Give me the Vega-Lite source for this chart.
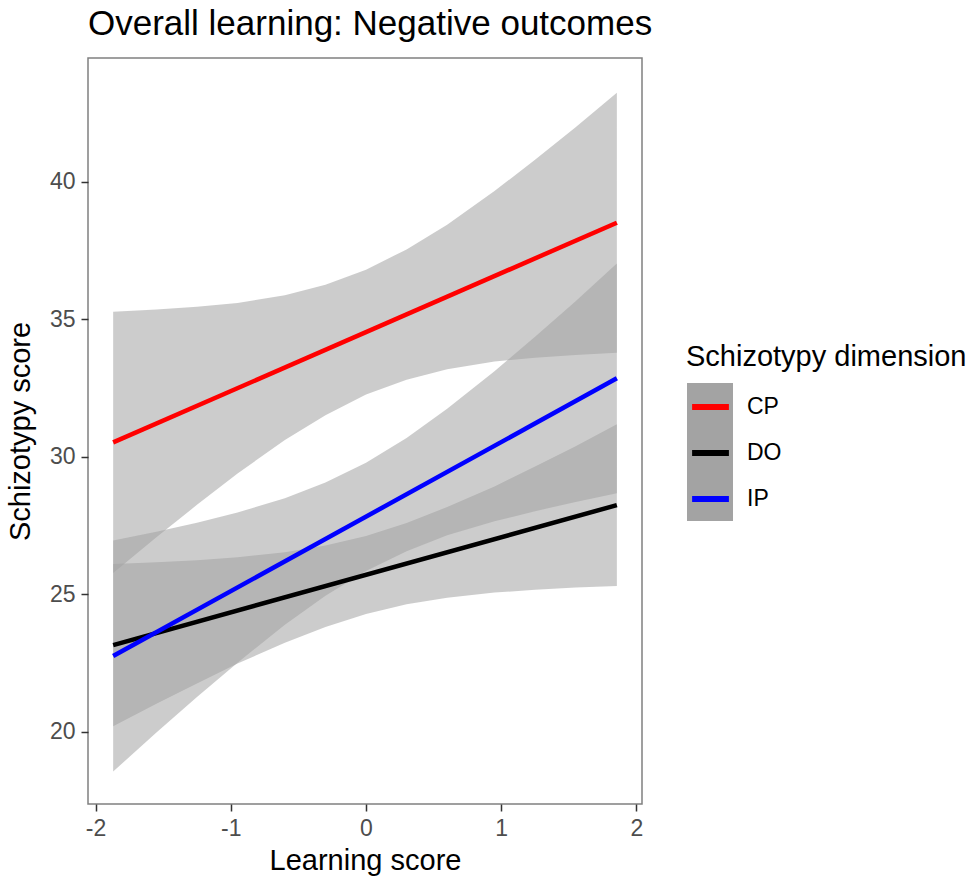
{
  "$schema": "https://vega.github.io/schema/vega-lite/v6.json",
  "autosize": {"type": "none"},
  "width": 554,
  "height": 746,
  "padding": {"left": 88, "top": 58, "right": 330, "bottom": 73},
  "background": "white",
  "title": {
    "text": "Overall learning: Negative outcomes",
    "anchor": "start",
    "frame": "group",
    "font": "Liberation Sans",
    "fontSize": 35,
    "fontWeight": "normal",
    "color": "#000000",
    "offset": 16
  },
  "datasets": {
    "fits": [
      {"x": -1.87, "y": 30.52, "series": "CP"},
      {"x": 1.855, "y": 38.51, "series": "CP"},
      {"x": -1.87, "y": 23.15, "series": "DO"},
      {"x": 1.855, "y": 28.24, "series": "DO"},
      {"x": -1.87, "y": 22.75, "series": "IP"},
      {"x": 1.855, "y": 32.85, "series": "IP"}
    ],
    "bands": [
      {"x": -1.87, "lower": 25.77, "upper": 35.27, "band": "CP"},
      {"x": -1.55, "lower": 27.07, "upper": 35.35, "band": "CP"},
      {"x": -1.25, "lower": 28.25, "upper": 35.45, "band": "CP"},
      {"x": -0.95, "lower": 29.39, "upper": 35.59, "band": "CP"},
      {"x": -0.6, "lower": 30.61, "upper": 35.87, "band": "CP"},
      {"x": -0.3, "lower": 31.51, "upper": 36.25, "band": "CP"},
      {"x": 0, "lower": 32.26, "upper": 36.8, "band": "CP"},
      {"x": 0.3, "lower": 32.8, "upper": 37.54, "band": "CP"},
      {"x": 0.6, "lower": 33.18, "upper": 38.44, "band": "CP"},
      {"x": 0.95, "lower": 33.46, "upper": 39.66, "band": "CP"},
      {"x": 1.25, "lower": 33.6, "upper": 40.8, "band": "CP"},
      {"x": 1.55, "lower": 33.7, "upper": 41.98, "band": "CP"},
      {"x": 1.855, "lower": 33.78, "upper": 43.24, "band": "CP"},
      {"x": -1.87, "lower": 20.2, "upper": 26.1, "band": "DO"},
      {"x": -1.55, "lower": 21.02, "upper": 26.16, "band": "DO"},
      {"x": -1.25, "lower": 21.75, "upper": 26.23, "band": "DO"},
      {"x": -0.95, "lower": 22.48, "upper": 26.34, "band": "DO"},
      {"x": -0.6, "lower": 23.23, "upper": 26.53, "band": "DO"},
      {"x": -0.3, "lower": 23.81, "upper": 26.77, "band": "DO"},
      {"x": 0, "lower": 24.28, "upper": 27.12, "band": "DO"},
      {"x": 0.3, "lower": 24.63, "upper": 27.59, "band": "DO"},
      {"x": 0.6, "lower": 24.87, "upper": 28.17, "band": "DO"},
      {"x": 0.95, "lower": 25.06, "upper": 28.92, "band": "DO"},
      {"x": 1.25, "lower": 25.16, "upper": 29.64, "band": "DO"},
      {"x": 1.55, "lower": 25.24, "upper": 30.38, "band": "DO"},
      {"x": 1.855, "lower": 25.3, "upper": 31.18, "band": "DO"},
      {"x": -1.87, "lower": 18.55, "upper": 26.95, "band": "IP"},
      {"x": -1.55, "lower": 19.97, "upper": 27.27, "band": "IP"},
      {"x": -1.25, "lower": 21.26, "upper": 27.6, "band": "IP"},
      {"x": -0.95, "lower": 22.51, "upper": 27.97, "band": "IP"},
      {"x": -0.6, "lower": 23.89, "upper": 28.49, "band": "IP"},
      {"x": -0.3, "lower": 24.94, "upper": 29.06, "band": "IP"},
      {"x": 0, "lower": 25.84, "upper": 29.78, "band": "IP"},
      {"x": 0.3, "lower": 26.56, "upper": 30.68, "band": "IP"},
      {"x": 0.6, "lower": 27.14, "upper": 31.74, "band": "IP"},
      {"x": 0.95, "lower": 27.65, "upper": 33.11, "band": "IP"},
      {"x": 1.25, "lower": 28.02, "upper": 34.36, "band": "IP"},
      {"x": 1.55, "lower": 28.35, "upper": 35.65, "band": "IP"},
      {"x": 1.855, "lower": 28.67, "upper": 37.03, "band": "IP"}
    ]
  },
  "layer": [
    {
      "data": {"name": "bands"},
      "mark": {"type": "area", "opacity": 0.55},
      "encoding": {
        "x": {"field": "x", "type": "quantitative"},
        "y": {"field": "lower", "type": "quantitative"},
        "y2": {"field": "upper"},
        "fill": {
          "field": "band",
          "type": "nominal",
          "scale": {"range": ["#a3a3a3", "#a3a3a3", "#a3a3a3"]},
          "legend": {
            "orient": "none",
            "legendX": 599,
            "legendY": 325,
            "title": null,
            "padding": 0,
            "rowPadding": 0,
            "symbolType": "square",
            "symbolSize": 2116,
            "symbolStrokeWidth": 0,
            "symbolOpacity": 1,
            "labelExpr": "''",
            "labelOffset": 14
          }
        }
      }
    },
    {
      "data": {"name": "fits"},
      "mark": {"type": "line", "strokeWidth": 4.5},
      "encoding": {
        "x": {
          "field": "x",
          "type": "quantitative",
          "scale": {"domain": [-2.056, 2.041], "nice": false, "zero": false},
          "axis": {"title": "Learning score", "values": [-2, -1, 0, 1, 2], "labelExpr": "datum.value + ''", "titlePadding": 6}
        },
        "y": {
          "field": "y",
          "type": "quantitative",
          "scale": {"domain": [17.37, 44.5], "nice": false, "zero": false},
          "axis": {"title": "Schizotypy score", "values": [20, 25, 30, 35, 40], "labelExpr": "datum.value + ''", "titlePadding": 14}
        },
        "stroke": {
          "field": "series",
          "type": "nominal",
          "scale": {"range": ["#ff0000", "#000000", "#0000ff"]},
          "legend": {
            "orient": "none",
            "legendX": 598,
            "legendY": 285,
            "title": "Schizotypy dimension",
            "padding": 0,
            "rowPadding": 8,
            "titlePadding": 9,
            "symbolType": "M-0.865,0H0.735",
            "symbolSize": 2116,
            "symbolStrokeWidth": 6,
            "labelOffset": 9
          }
        }
      }
    }
  ],
  "config": {
    "font": "Liberation Sans",
    "view": {"stroke": "#808080", "strokeWidth": 1.5},
    "axis": {
      "grid": false,
      "domain": false,
      "ticks": true,
      "tickSize": 7,
      "tickWidth": 1.5,
      "tickColor": "#333333",
      "labelFont": "Liberation Sans",
      "labelFontSize": 23,
      "labelColor": "#4d4d4d",
      "labelPadding": 6,
      "titleFont": "Liberation Sans",
      "titleFontSize": 29,
      "titleFontWeight": "normal",
      "titleColor": "#000000"
    },
    "legend": {
      "titleFont": "Liberation Sans",
      "titleFontSize": 29,
      "titleFontWeight": "normal",
      "titleColor": "#000000",
      "labelFont": "Liberation Sans",
      "labelFontSize": 23,
      "labelColor": "#000000",
      "titleLimit": 400
    }
  }
}
